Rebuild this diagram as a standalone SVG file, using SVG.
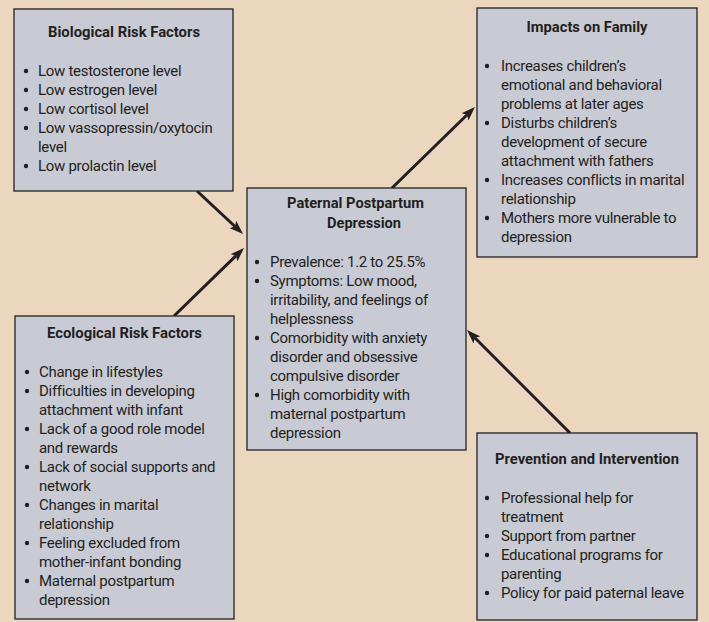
<svg xmlns="http://www.w3.org/2000/svg" width="709" height="622" viewBox="0 0 709 622">
<defs>
<style>
.bg{fill:#EBD6BE}
.box{fill:#C8CBD3;stroke:#231F20;stroke-width:1.3}
.t{font-family:Roboto,"Liberation Sans",sans-serif;font-size:15px;font-weight:bold;fill:#231F20;text-anchor:middle}
.b{font-family:Roboto,"Liberation Sans",sans-serif;font-size:15px;letter-spacing:-0.3px;fill:#231F20}
.dot{fill:#231F20}
.arr{stroke:#231F20;stroke-width:3;fill:none;marker-end:url(#ah)}
</style>
<marker id="ah" markerUnits="userSpaceOnUse" markerWidth="15" markerHeight="10" refX="3" refY="5" orient="auto">
<path d="M0,0 L14,5 L0,10 L3,5 z" fill="#231F20"/>
</marker>
</defs>
<rect class="bg" x="0" y="0" width="709" height="622"/>

<g id="connectors">
<line class="arr" x1="197" y1="191" x2="235" y2="226.5"/>
<line class="arr" x1="174" y1="316" x2="236.1" y2="255.7"/>
<line class="arr" x1="392" y1="188" x2="467.1" y2="114.7"/>
<line class="arr" x1="570" y1="433" x2="474.8" y2="337.8"/>
</g>

<g id="biological">
<rect class="box" x="14" y="9" width="219" height="182"/>
<text class="t" x="124" y="37" textLength="152" lengthAdjust="spacingAndGlyphs">Biological Risk Factors</text>
<g class="b">
<text x="38" y="76">Low testosterone level</text>
<text x="38" y="95">Low estrogen level</text>
<text x="38" y="114">Low cortisol level</text>
<text x="38" y="133">Low vassopressin/oxytocin</text>
<text x="38" y="152">level</text>
<text x="38" y="171">Low prolactin level</text>
</g>
<circle class="dot" cx="26" cy="71" r="2.2"/>
<circle class="dot" cx="26" cy="90" r="2.2"/>
<circle class="dot" cx="26" cy="109" r="2.2"/>
<circle class="dot" cx="26" cy="128" r="2.2"/>
<circle class="dot" cx="26" cy="166" r="2.2"/>
</g>

<g id="ecological">
<rect class="box" x="15" y="316" width="219" height="303"/>
<text class="t" x="124.5" y="338" textLength="155" lengthAdjust="spacingAndGlyphs">Ecological Risk Factors</text>
<g class="b">
<text x="39" y="377">Change in lifestyles</text>
<text x="39" y="396">Difficulties in developing</text>
<text x="39" y="415">attachment with infant</text>
<text x="39" y="434">Lack of a good role model</text>
<text x="39" y="453">and rewards</text>
<text x="39" y="472">Lack of social supports and</text>
<text x="39" y="491">network</text>
<text x="39" y="510">Changes in marital</text>
<text x="39" y="529">relationship</text>
<text x="39" y="548">Feeling excluded from</text>
<text x="39" y="567">mother-infant bonding</text>
<text x="39" y="586">Maternal postpartum</text>
<text x="39" y="605">depression</text>
</g>
<circle class="dot" cx="27" cy="372" r="2.2"/>
<circle class="dot" cx="27" cy="391" r="2.2"/>
<circle class="dot" cx="27" cy="429" r="2.2"/>
<circle class="dot" cx="27" cy="467" r="2.2"/>
<circle class="dot" cx="27" cy="505" r="2.2"/>
<circle class="dot" cx="27" cy="543" r="2.2"/>
<circle class="dot" cx="27" cy="581" r="2.2"/>
</g>

<g id="paternal">
<rect class="box" x="247" y="188" width="219" height="262"/>
<text class="t" x="355.5" y="208" textLength="137" lengthAdjust="spacingAndGlyphs">Paternal Postpartum</text>
<text class="t" x="364" y="228" textLength="74" lengthAdjust="spacingAndGlyphs">Depression</text>
<g class="b">
<text x="270" y="267">Prevalence: 1.2 to 25.5%</text>
<text x="270" y="286">Symptoms: Low mood,</text>
<text x="270" y="305">irritability, and feelings of</text>
<text x="270" y="324">helplessness</text>
<text x="270" y="343">Comorbidity with anxiety</text>
<text x="270" y="362">disorder and obsessive</text>
<text x="270" y="381">compulsive disorder</text>
<text x="270" y="400">High comorbidity with</text>
<text x="270" y="419">maternal postpartum</text>
<text x="270" y="438">depression</text>
</g>
<circle class="dot" cx="257" cy="262" r="2.2"/>
<circle class="dot" cx="257" cy="281" r="2.2"/>
<circle class="dot" cx="257" cy="338" r="2.2"/>
<circle class="dot" cx="257" cy="395" r="2.2"/>
</g>

<g id="impacts">
<rect class="box" x="477" y="8" width="220" height="249"/>
<text class="t" x="587" y="32" textLength="121" lengthAdjust="spacingAndGlyphs">Impacts on Family</text>
<g class="b">
<text x="501" y="71">Increases children’s</text>
<text x="501" y="90">emotional and behavioral</text>
<text x="501" y="109">problems at later ages</text>
<text x="501" y="128">Disturbs children’s</text>
<text x="501" y="147">development of secure</text>
<text x="501" y="166">attachment with fathers</text>
<text x="501" y="185">Increases conflicts in marital</text>
<text x="501" y="204">relationship</text>
<text x="501" y="223">Mothers more vulnerable to</text>
<text x="501" y="242">depression</text>
</g>
<circle class="dot" cx="487" cy="66" r="2.2"/>
<circle class="dot" cx="487" cy="123" r="2.2"/>
<circle class="dot" cx="487" cy="180" r="2.2"/>
<circle class="dot" cx="487" cy="218" r="2.2"/>
</g>

<g id="prevention">
<rect class="box" x="477" y="433" width="220" height="187"/>
<text class="t" x="587" y="464" textLength="184" lengthAdjust="spacingAndGlyphs">Prevention and Intervention</text>
<g class="b">
<text x="501" y="503">Professional help for</text>
<text x="501" y="522">treatment</text>
<text x="501" y="541">Support from partner</text>
<text x="501" y="560">Educational programs for</text>
<text x="501" y="579">parenting</text>
<text x="501" y="598">Policy for paid paternal leave</text>
</g>
<circle class="dot" cx="487" cy="498" r="2.2"/>
<circle class="dot" cx="487" cy="536" r="2.2"/>
<circle class="dot" cx="487" cy="555" r="2.2"/>
<circle class="dot" cx="487" cy="593" r="2.2"/>
</g>
</svg>
